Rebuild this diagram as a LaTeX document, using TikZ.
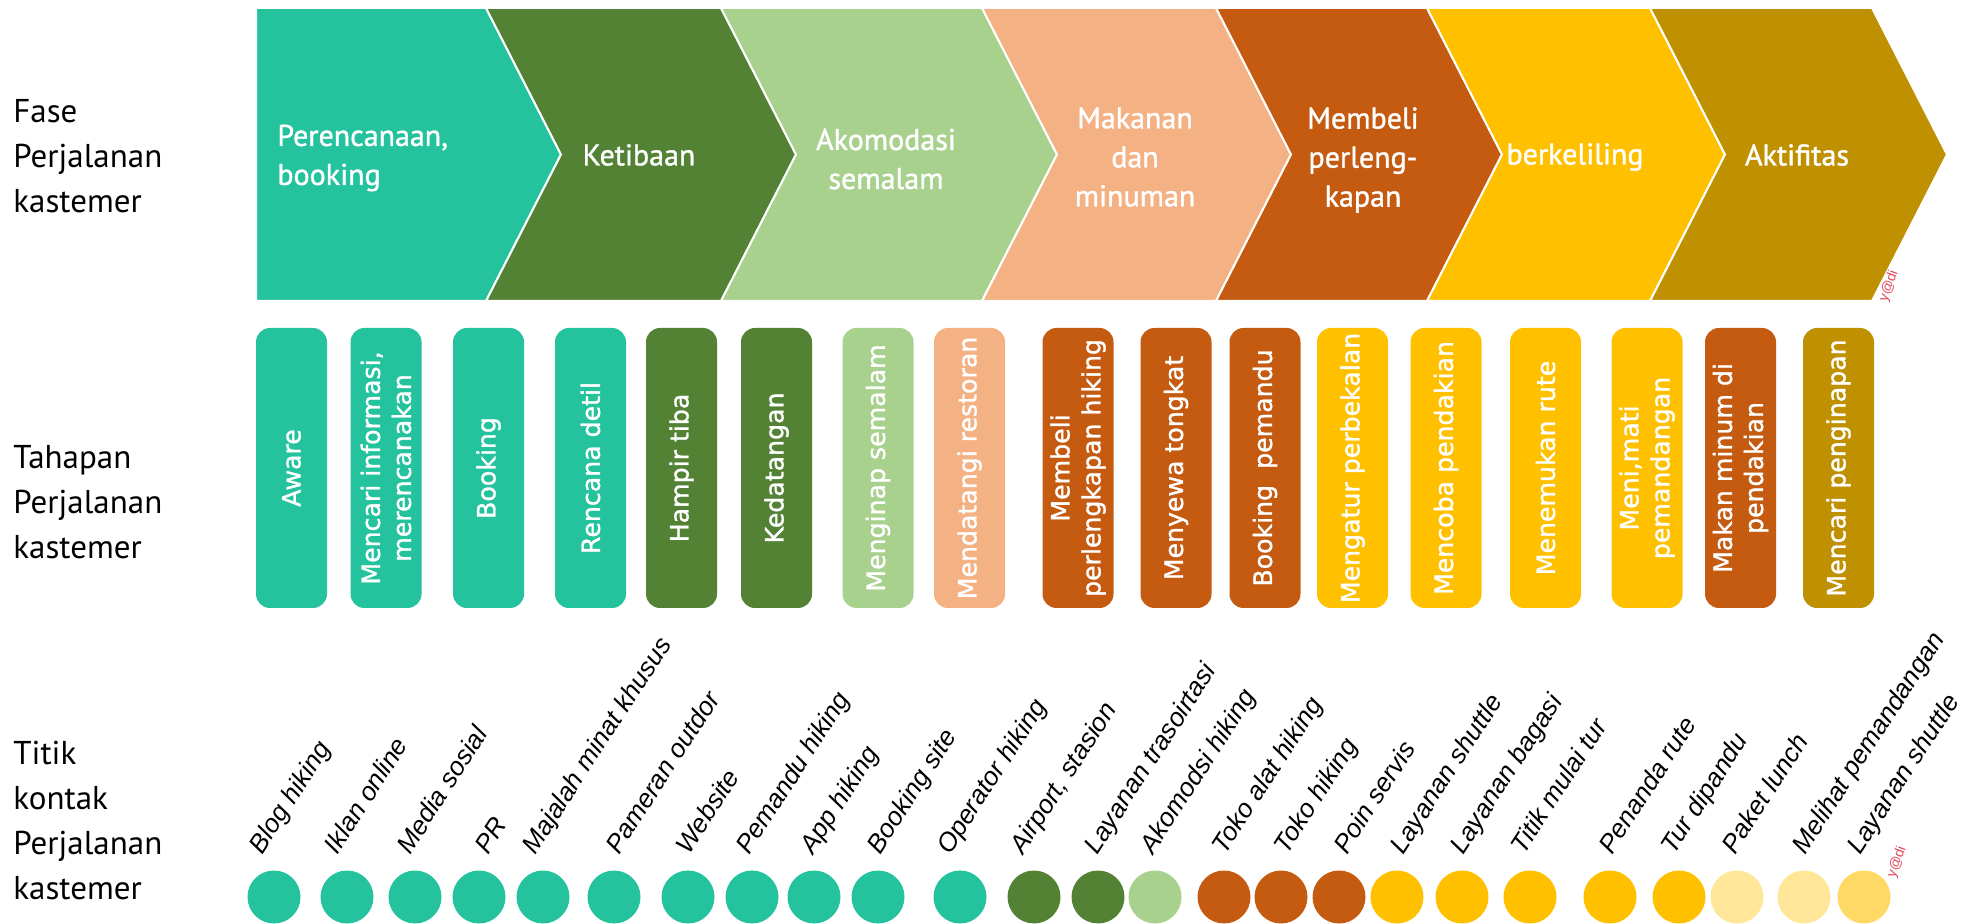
\documentclass[tikz,border=0pt]{standalone}
\usepackage{fontspec}
\setmainfont{PT Sans}
\newfontfamily\fasefont[FakeBold=1.2]{PT Sans}
\newfontfamily\tahapfont[FakeBold=1.2]{DejaVu Sans}
\newfontfamily\kontakfont{Liberation Sans}
\usetikzlibrary{positioning,calc}

\definecolor{tosca}{HTML}{24C39E}
\definecolor{hijautua}{HTML}{548235}
\definecolor{hijaumuda}{HTML}{A9D18E}
\definecolor{salem}{HTML}{F4B183}
\definecolor{jingga}{HTML}{C55A11}
\definecolor{emas}{HTML}{FFC000}
\definecolor{zaitun}{HTML}{BF9000}
\definecolor{kuningmuda}{HTML}{FFE699}
\definecolor{kuningsedang}{HTML}{FFD966}
\definecolor{parafred}{HTML}{E04858}

\tikzset{
  fase/.style={draw=white, line width=1pt},
  fasetext/.style={text=white, inner sep=0pt, align=center, font=\fasefont\fontsize{15}{19.5}\selectfont},
  judul/.style={anchor=west, inner sep=0pt, align=left, font=\fontsize{16.5}{22.5}\selectfont},
  tahap/.style={rotate=90, rounded corners=7pt, minimum width=140pt, minimum height=35.5pt, inner sep=2pt, text=white, align=center, font=\tahapfont\fontsize{12.6}{15.5}\selectfont},
  titik/.style={circle, minimum size=26.5pt, inner sep=0pt},
  kontak/.style={rotate=57, anchor=base west, inner sep=0pt, font=\kontakfont\itshape\fontsize{13}{15}\selectfont},
  paraf/.style={rotate=70, text=parafred, inner sep=0pt, font=\kontakfont\fontsize{7}{8}\selectfont}
}

\begin{document}
\begin{tikzpicture}[x=0.5pt, y=-0.5pt]
\useasboundingbox (0,0) rectangle (1977,924);

% baris fase
\filldraw[fase, fill=tosca] (256,8) -- (486,8) -- (561,154.5) -- (486,301) -- (256,301) -- cycle;
\filldraw[fase, fill=hijautua] (486,8) -- (721,8) -- (796,154.5) -- (721,301) -- (486,301) -- (561,154.5) -- cycle;
\filldraw[fase, fill=hijaumuda] (721,8) -- (982,8) -- (1057,154.5) -- (982,301) -- (721,301) -- (796,154.5) -- cycle;
\filldraw[fase, fill=salem] (982,8) -- (1216,8) -- (1291,154.5) -- (1216,301) -- (982,301) -- (1057,154.5) -- cycle;
\filldraw[fase, fill=jingga] (1216,8) -- (1427,8) -- (1502,154.5) -- (1427,301) -- (1216,301) -- (1291,154.5) -- cycle;
\filldraw[fase, fill=emas] (1427,8) -- (1650,8) -- (1725,154.5) -- (1650,301) -- (1427,301) -- (1502,154.5) -- cycle;
\filldraw[fase, fill=zaitun] (1650,8) -- (1872,8) -- (1947,154.5) -- (1872,301) -- (1650,301) -- (1725,154.5) -- cycle;

\node[fasetext, anchor=west, align=left] (f1) at (277,158) {Perencanaan,\\booking};
\node[fasetext] (f2) at (639,155) {Ketibaan};
\node[fasetext] (f3) at (886,159) {Akomodasi\\semalam};
\node[fasetext] (f4) at (1135,157) {Makanan\\dan\\minuman};
\node[fasetext] (f5) at (1363,160) {Membeli\\perleng-\\kapan};
\node[fasetext] (f6) at (1575,157) {berkeliling};
\node[fasetext] (f7) at (1797,155) {Aktifitas};

% judul baris
\node[judul] (jfase) at (13,156.5) {Fase\\Perjalanan\\kastemer};
\node[judul] (jtahap) at (13,502.5) {Tahapan\\Perjalanan\\kastemer};
\node[judul] (jtitik) at (13,821) {Titik\\kontak\\Perjalanan\\kastemer};

% baris tahapan
\node[tahap, fill=tosca] (s1) at (291.5,468) {Aware};
\node[tahap, fill=tosca] (s2) at (386,468) {Mencari informasi,\\merencanakan};
\node[tahap, fill=tosca] (s3) at (488.5,468) {Booking};
\node[tahap, fill=tosca] (s4) at (590.5,468) {Rencana detil};
\node[tahap, fill=hijautua] (s5) at (681.5,468) {Hampir tiba};
\node[tahap, fill=hijautua] (s6) at (776.5,468) {Kedatangan};
\node[tahap, fill=hijaumuda] (s7) at (878,468) {Menginap semalam};
\node[tahap, fill=salem] (s8) at (969.5,468) {Mendatangi restoran};
\node[tahap, fill=jingga] (s9) at (1078,468) {Membeli\\perlengkapan hiking};
\node[tahap, fill=jingga] (s10) at (1176,468) {Menyewa tongkat};
\node[tahap, fill=jingga] (s11) at (1265,468) {Booking\ \ pemandu};
\node[tahap, fill=emas] (s12) at (1352.5,468) {Mengatur perbekalan};
\node[tahap, fill=emas] (s13) at (1446,468) {Mencoba pendakian};
\node[tahap, fill=emas] (s14) at (1545.5,468) {Menemukan rute};
\node[tahap, fill=emas] (s15) at (1647,468) {Meni,mati\\pemandangan};
\node[tahap, fill=jingga] (s16) at (1740.5,468) {Makan minum di\\pendakian};
\node[tahap, fill=zaitun] (s17) at (1838.5,468) {Mencari penginapan};

% baris titik kontak
\node[titik, fill=tosca] (c1) at (274,897) {};
\node[titik, fill=tosca] (c2) at (347,897) {};
\node[titik, fill=tosca] (c3) at (415,897) {};
\node[titik, fill=tosca] (c4) at (479,897) {};
\node[titik, fill=tosca] (c5) at (543,897) {};
\node[titik, fill=tosca] (c6) at (614,897) {};
\node[titik, fill=tosca] (c7) at (688,897) {};
\node[titik, fill=tosca] (c8) at (752,897) {};
\node[titik, fill=tosca] (c9) at (814,897) {};
\node[titik, fill=tosca] (c10) at (878,897) {};
\node[titik, fill=tosca] (c11) at (960,897) {};
\node[titik, fill=hijautua] (c12) at (1034,897) {};
\node[titik, fill=hijautua] (c13) at (1098,897) {};
\node[titik, fill=hijaumuda] (c14) at (1155,897) {};
\node[titik, fill=jingga] (c15) at (1224,897) {};
\node[titik, fill=jingga] (c16) at (1281,897) {};
\node[titik, fill=jingga] (c17) at (1339,897) {};
\node[titik, fill=emas] (c18) at (1397,897) {};
\node[titik, fill=emas] (c19) at (1462,897) {};
\node[titik, fill=emas] (c20) at (1530,897) {};
\node[titik, fill=emas] (c21) at (1610,897) {};
\node[titik, fill=emas] (c22) at (1679,897) {};
\node[titik, fill=kuningmuda] (c23) at (1737,897) {};
\node[titik, fill=kuningmuda] (c24) at (1804,897) {};
\node[titik, fill=kuningsedang] (c25) at (1864,897) {};

\node[kontak] (k1) at ([xshift=-6pt,yshift=7.25pt]c1.north) {Blog hiking};
\node[kontak] (k2) at ([xshift=-5pt,yshift=7.25pt]c2.north) {Iklan online};
\node[kontak] (k3) at ([xshift=-2.5pt,yshift=7.25pt]c3.north) {Media sosial};
\node[kontak] (k4) at ([xshift=4.5pt,yshift=7.25pt]c4.north) {PR};
\node[kontak] (k5) at ([xshift=-4pt,yshift=7.25pt]c5.north) {Majalah minat khusus};
\node[kontak] (k6) at ([xshift=2.5pt,yshift=7.25pt]c6.north) {Pameran outdor};
\node[kontak] (k7) at ([xshift=0.5pt,yshift=7.25pt]c7.north) {Website};
\node[kontak] (k8) at ([xshift=-1.5pt,yshift=7.25pt]c8.north) {Pemandu hiking};
\node[kontak] (k9) at ([xshift=-0.5pt,yshift=7.25pt]c9.north) {App hiking};
\node[kontak] (k10) at ([xshift=1pt,yshift=7.25pt]c10.north) {Booking site};
\node[kontak] (k11) at ([xshift=-5pt,yshift=7.25pt]c11.north) {Operator hiking};
\node[kontak] (k12) at ([xshift=-5.5pt,yshift=7.25pt]c12.north) {Airport, stasion};
\node[kontak] (k13) at ([xshift=-0.5pt,yshift=7.25pt]c13.north) {Layanan trasoirtasi};
\node[kontak] (k14) at ([xshift=-1pt,yshift=7.25pt]c14.north) {Akomodsi hiking};
\node[kontak] (k15) at ([xshift=0.5pt,yshift=7.25pt]c15.north) {Toko alat hiking};
\node[kontak] (k16) at ([xshift=3pt,yshift=7.25pt]c16.north) {Toko hiking};
\node[kontak] (k17) at ([xshift=4pt,yshift=7.25pt]c17.north) {Poin servis};
\node[kontak] (k18) at ([xshift=3pt,yshift=7.25pt]c18.north) {Layanan shuttle};
\node[kontak] (k19) at ([xshift=0.5pt,yshift=7.25pt]c19.north) {Layanan bagasi};
\node[kontak] (k20) at ([xshift=-3pt,yshift=7.25pt]c20.north) {Titik mulai tur};
\node[kontak] (k21) at ([xshift=1pt,yshift=7.25pt]c21.north) {Penanda rute};
\node[kontak] (k22) at ([xshift=-2.5pt,yshift=7.25pt]c22.north) {Tur dipandu};
\node[kontak] (k23) at ([xshift=-1pt,yshift=7.25pt]c23.north) {Paket lunch};
\node[kontak] (k24) at ([xshift=0.5pt,yshift=7.25pt]c24.north) {Melihat pemandangan};
\node[kontak] (k25) at ([xshift=-2pt,yshift=7.25pt]c25.north) {Layanan shuttle};

% paraf
\node[paraf] (paraf1) at (1889,286) {y@di};
\node[paraf] (paraf2) at (1897,862) {y@di};
\end{tikzpicture}
\end{document}
